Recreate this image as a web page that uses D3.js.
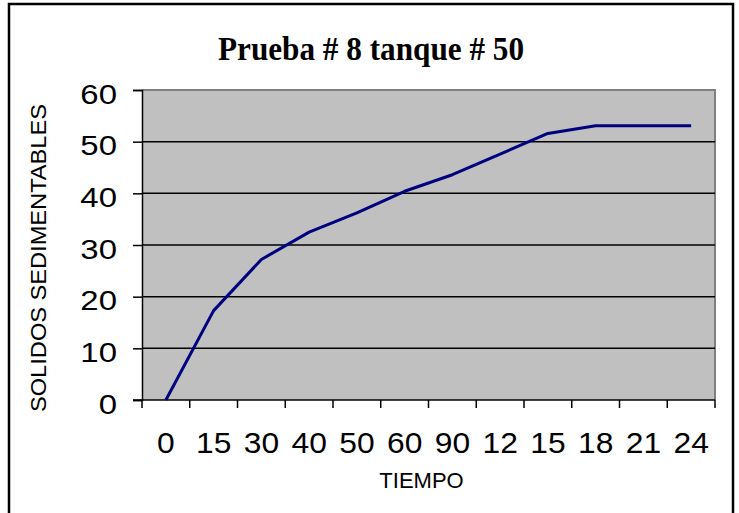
<!DOCTYPE html>
<html>
<head>
<meta charset="utf-8">
<script src="https://cdn.jsdelivr.net/npm/d3@7"></script>
<style>
  html, body { margin: 0; padding: 0; background: #fff; }
  svg { display: block; }
</style>
</head>
<body>
<svg id="chart" width="739" height="513"></svg>
<script>
// Sedimentation test: settled solids over time
const tiempo = ["0", "15", "30", "40", "50", "60", "90", "12", "15", "18", "21", "24"];
const solidos = [0, 17.3, 27.2, 32.5, 36.2, 40.4, 43.6, 47.6, 51.6, 53.1, 53.1, 53.1];
const yTicks = [0, 10, 20, 30, 40, 50, 60];

const svg = d3.select("#chart");
const plot = { left: 142, right: 715, top: 90, bottom: 400 };
const sans = "Liberation Sans, Arial, sans-serif";

// outer frame (bottom edge runs past the canvas)
svg.append("rect")
  .attr("x", 9).attr("y", 4)
  .attr("width", 724).attr("height", 520)
  .attr("fill", "#fff").attr("stroke", "#000").attr("stroke-width", 2.5);

const x = d3.scaleBand().domain(d3.range(tiempo.length))
  .range([plot.left, plot.right]).paddingInner(0).paddingOuter(0);
const y = d3.scaleLinear().domain([0, 60]).range([plot.bottom, plot.top]);

// plot area
svg.append("rect")
  .attr("x", plot.left).attr("y", plot.top)
  .attr("width", plot.right - plot.left).attr("height", plot.bottom - plot.top)
  .attr("fill", "#c0c0c0");
svg.append("path")
  .attr("d", `M${plot.left},${plot.top}H${plot.right}V${plot.bottom}`)
  .attr("fill", "none").attr("stroke", "#808080").attr("stroke-width", 2);

// horizontal grid lines
svg.append("g").selectAll("line")
  .data(yTicks.filter(d => d > 0 && d < 60))
  .join("line")
  .attr("x1", plot.left).attr("x2", plot.right)
  .attr("y1", d => y(d)).attr("y2", d => y(d))
  .attr("stroke", "#000").attr("stroke-width", 1.5);

// y axis
const yAxis = svg.append("g")
  .attr("transform", `translate(${plot.left},0)`)
  .call(d3.axisLeft(y).tickValues(yTicks).tickSize(9));
yAxis.select(".domain").attr("stroke", "#000").attr("stroke-width", 1.5);
yAxis.selectAll(".tick line").attr("stroke", "#000").attr("stroke-width", 1.5);
yAxis.selectAll(".tick text")
  .attr("x", 0).attr("dy", 0)
  .attr("text-anchor", "end")
  .attr("transform", "translate(-25,13.3) scale(1.22,1)")
  .attr("font-family", sans)
  .attr("font-size", 27).attr("fill", "#000");

// x axis: ticks at category boundaries, labels at category centers
const xAxis = svg.append("g").attr("transform", `translate(0,${plot.bottom})`);
xAxis.append("line")
  .attr("x1", plot.left - 9).attr("x2", plot.right)
  .attr("stroke", "#000").attr("stroke-width", 1.5);
xAxis.selectAll("line.tk")
  .data(d3.range(tiempo.length + 1))
  .join("line").attr("class", "tk")
  .attr("x1", i => i < tiempo.length ? x(i) : x(tiempo.length - 1) + x.bandwidth())
  .attr("x2", i => i < tiempo.length ? x(i) : x(tiempo.length - 1) + x.bandwidth())
  .attr("y1", 0).attr("y2", 8)
  .attr("stroke", "#000").attr("stroke-width", 1.5);
xAxis.selectAll("text")
  .data(tiempo)
  .join("text")
  .attr("transform", (d, i) => `translate(${x(i) + x.bandwidth() / 2},53) scale(1.06,1)`)
  .attr("text-anchor", "middle")
  .attr("font-family", sans)
  .attr("font-size", 30).attr("fill", "#000")
  .text(d => d);

// series line
const line = d3.line()
  .x((d, i) => x(i) + x.bandwidth() / 2)
  .y(d => y(d));
svg.append("path")
  .datum(solidos)
  .attr("d", line)
  .attr("fill", "none")
  .attr("stroke", "#000080")
  .attr("stroke-width", 3)
  .attr("stroke-linejoin", "round");

// titles
svg.append("text")
  .attr("x", 218).attr("y", 60)
  .attr("textLength", 306)
  .attr("lengthAdjust", "spacingAndGlyphs")
  .attr("font-family", "Liberation Serif, Times New Roman, serif")
  .attr("font-weight", "bold")
  .attr("font-size", 34)
  .attr("fill", "#000")
  .text("Prueba # 8 tanque # 50");

svg.append("text")
  .attr("x", 421.5).attr("y", 488)
  .attr("text-anchor", "middle")
  .attr("font-family", sans)
  .attr("font-size", 22).attr("fill", "#000")
  .text("TIEMPO");

svg.append("text")
  .attr("transform", "translate(46,258) rotate(-90)")
  .attr("text-anchor", "middle")
  .attr("textLength", 308)
  .attr("lengthAdjust", "spacingAndGlyphs")
  .attr("font-family", sans)
  .attr("font-size", 22).attr("fill", "#000")
  .text("SOLIDOS SEDIMENTABLES");
</script>
</body>
</html>
